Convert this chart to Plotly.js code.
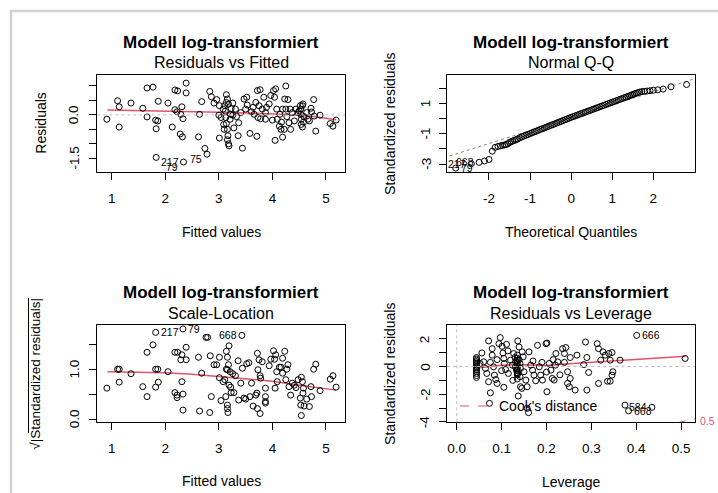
<!DOCTYPE html>
<html>
<head>
<meta charset="utf-8">
<script src="https://cdn.plot.ly/plotly-3.0.1.min.js"></script>
<style>html,body{margin:0;padding:0;background:#fff;}#plot{width:718px;height:493px;}</style>
</head>
<body>
<div id="plot"></div>
<script>
// ---------- Panel 1: Residuals vs Fitted ----------
var rvfX = [0.91,1.11,1.14,1.14,1.36,1.58,1.66,1.77,1.66,1.82,
1.86,1.83,1.87,2.05,2.13,2.18,2.23,2.39,2.39,2.18,
2.22,2.31,2.29,2.33,2.28,2.32,2.62,2.64,2.68,2.74,
2.78,1.83,2.34,2.83,2.86,2.91,2.96,3.01,3.0,3.04,
3.01,3.08,3.11,3.14,3.16,3.14,3.12,3.13,3.14,3.16,
3.17,3.16,3.18,3.19,3.21,3.22,3.23,3.26,3.28,3.31,
3.36,3.37,3.41,3.44,3.47,3.5,3.52,3.58,3.61,3.64,
3.69,3.71,3.72,3.77,3.73,3.78,3.81,3.84,3.87,3.87,
3.94,3.97,4.02,4.06,4.04,4.08,4.09,4.05,4.13,4.16,
4.19,4.19,4.23,4.25,4.27,4.29,4.31,4.34,4.37,4.41,
4.44,4.48,4.52,4.53,4.53,4.54,4.54,4.56,4.57,4.59,
4.64,4.69,4.72,4.77,4.81,4.89,5.08,5.13,5.19,3.09,
3.1,3.18,3.26,3.33,3.53,3.66,3.75,3.89,4.0,4.14,
4.17,4.22,4.25,4.33,4.5,4.56,4.58,4.66,4.73,4.78];
var rvfY = [-0.15,0.49,0.28,-0.42,0.41,0.23,0.93,0.96,-0.07,-0.18,
-0.21,-0.48,0.47,0.41,-0.42,0.86,0.83,1.10,0.76,0.18,
0.11,0.28,0.02,-0.13,-0.66,-0.76,-0.76,0.02,0.46,-1.16,
-1.36,-1.47,-1.63,0.81,0.63,0.41,0.53,0.32,-0.01,-0.09,
-0.80,0.20,0.32,0.70,0.55,0.43,0.13,-0.09,-0.30,-0.50,
-0.72,-0.86,-1.0,-1.07,-0.15,0.02,0.22,0.41,-0.45,0.2,
-0.72,-0.27,0.08,-1.15,0.55,0.2,0.61,-0.64,0.11,0.26,
0.43,-0.74,0.84,0.87,-0.09,-0.13,0.2,0.61,0.08,-0.15,
0.38,0.67,0.84,0.9,0.61,0.2,-0.15,-0.88,-0.39,-0.5,
-0.77,0.2,0.55,1.0,-0.06,0.53,-0.27,-0.5,0.08,-0.21,
0.2,0.08,0.32,0.2,0.02,-0.15,-0.33,-0.42,0.38,-0.06,
0.08,-0.21,0.23,0.53,-0.56,-0.01,-0.3,-0.39,-0.18,-0.33,
-0.5,0.37,-0.01,-0.06,0.34,0.02,0.32,0.26,-0.18,0.02,
-0.25,-0.5,0.2,0.2,0.14,0.32,-0.25,-0.15,0.1,-0.04];
var rvfSmoothX = [0.92,1.5,2.0,2.5,3.0,3.5,4.0,4.5,4.8,5.0,5.19];
var rvfSmoothY = [0.17,0.155,0.14,0.115,0.095,0.07,0.04,0.0,-0.06,-0.11,-0.17];
var rvfIdX = [1.83,2.34,2.78];
var rvfIdY = [-1.47,-1.63,-1.36];
var rvfIdText = ['217','79','75'];
var rvfIdSide = [1,-1,-1];
var rvfXTicks = [1,2,3,4,5];
var rvfXLabels = ['1','2','3','4','5'];
var rvfYTicks = [-1.5,-1,-0.5,0,0.5,1];
var rvfYLabels = ['-1.5','','','0.0','',''];

// ---------- Panel 2: Normal Q-Q ----------
var qqX = [-2.81,-2.43,-2.24,-2.11,-2.0,-1.92,-1.85,-1.78,-1.72,-1.67,-1.62,-1.58,-1.54,-1.5,-1.46,-1.42,-1.38,-1.34,-1.3,
-1.25,-1.2,-1.15,-1.1,-1.05,-1.0,-0.95,-0.9,-0.85,-0.8,-0.75,-0.7,-0.65,-0.6,-0.55,-0.5,-0.45,-0.4,-0.35,-0.3,-0.25,-0.2,-0.15,-0.1,-0.05,
0,0.05,0.1,0.15,0.2,0.25,0.3,0.35,0.4,0.45,0.5,0.55,0.6,0.65,0.7,0.75,0.8,0.85,0.9,0.95,1.0,1.05,1.1,1.15,1.2,1.25,1.3,
1.34,1.38,1.42,1.46,1.5,1.54,1.58,1.62,1.67,1.72,1.78,1.85,1.92,2.0,2.11,2.24,2.43,2.81];
var qqY = [-3.27,-2.98,-2.89,-2.80,-2.70,-2.15,-1.90,-1.84,-1.80,-1.77,-1.74,-1.71,-1.66,-1.58,-1.53,-1.48,-1.44,-1.40,-1.34,
-1.27,-1.21,-1.15,-1.10,-1.05,-0.99,-0.94,-0.88,-0.83,-0.78,-0.72,-0.67,-0.62,-0.56,-0.51,-0.45,-0.40,-0.35,-0.29,-0.24,-0.19,-0.13,-0.08,-0.03,0.03,
0.08,0.13,0.18,0.23,0.28,0.33,0.38,0.43,0.48,0.53,0.58,0.63,0.68,0.73,0.78,0.83,0.88,0.93,0.98,1.03,1.08,1.13,1.18,1.23,1.28,1.33,1.38,
1.42,1.46,1.50,1.55,1.59,1.63,1.67,1.71,1.75,1.78,1.80,1.82,1.84,1.87,1.90,1.95,2.10,2.25];
var qqLineX = [-3.1,3.1];
var qqLineY = [-2.59,2.71];
var qqIdX = [-2.81,-2.43,-2.24];
var qqIdY = [-3.27,-2.98,-2.89];
var qqIdText = ['79','217','668'];
var qqIdSide = [1,-1,-1];
var qqXTicks = [-2,-1,0,1,2];
var qqXLabels = ['-2','-1','0','1','2'];
var qqYTicks = [-3,-2,-1,0,1,2];
var qqYLabels = ['-3','','-1','','1',''];

// ---------- Panel 3: Scale-Location ----------
var slX = [0.91,1.11,1.14,1.14,1.36,1.58,1.66,1.66,1.77,1.82,
1.82,1.86,1.82,1.87,2.05,2.18,2.23,2.18,2.22,2.22,
2.31,2.29,2.33,2.39,2.39,2.31,2.33,2.33,2.62,2.64,
2.68,2.76,2.79,2.83,2.84,2.86,2.91,2.96,3.01,3.01,
3.04,3.08,3.11,3.13,3.14,3.16,3.16,3.14,3.16,3.16,
3.17,3.19,3.18,3.19,3.21,3.22,3.23,3.26,3.28,3.31,
3.36,3.37,3.41,3.44,3.47,3.5,3.52,3.56,3.58,3.61,
3.64,3.69,3.71,3.72,3.75,3.73,3.72,3.77,3.77,3.78,
3.81,3.87,3.87,3.87,3.87,3.94,3.97,4.02,4.04,4.06,
4.05,4.08,4.09,4.13,4.16,4.19,4.19,4.23,4.25,4.27,
4.29,4.31,4.34,4.37,4.41,4.44,4.48,4.52,4.53,4.54,
4.54,4.56,4.57,4.58,4.59,4.64,4.69,4.72,4.73,4.77,
4.81,4.89,5.08,5.13,5.19,3.43];
var slY = [0.62,1.0,1.0,0.74,0.91,0.65,1.34,0.45,1.49,1.74,
1.0,1.0,0.64,0.74,0.95,1.34,1.34,0.53,0.43,0.48,
1.29,1.19,1.81,1.44,1.19,0.75,0.50,0.18,1.24,0.16,
0.92,1.64,1.64,0.13,1.27,0.45,1.09,1.09,1.24,0.83,
0.37,0.75,0.79,0.45,1.36,1.24,0.99,1.0,0.28,0.21,
0.13,1.47,1.09,0.68,0.95,0.64,0.53,0.91,0.53,0.87,
1.17,0.38,0.72,1.02,0.42,0.40,1.11,1.13,0.45,0.72,
0.26,0.48,0.52,1.32,1.19,0.99,0.21,0.11,0.87,0.82,
1.15,0.62,0.45,0.35,0.32,1.07,1.2,1.37,1.2,1.29,
0.62,0.95,0.75,1.04,1.04,0.92,1.22,1.36,0.79,1.0,
1.09,0.65,0.48,0.72,0.68,0.63,0.79,0.42,0.28,0.07,
0.84,0.75,0.52,0.62,0.26,0.4,0.25,0.65,0.45,1.0,
1.1,0.57,0.8,0.87,0.64,1.68];
var slSmoothX = [0.92,1.5,2.0,2.5,3.0,3.5,4.0,4.5,4.8,5.0,5.19];
var slSmoothY = [0.95,0.94,0.93,0.90,0.85,0.80,0.76,0.68,0.63,0.60,0.58];
var slIdX = [1.82,2.33,3.43];
var slIdY = [1.74,1.81,1.68];
var slIdText = ['217','79','668'];
var slIdSide = [1,1,-1];
var slYTicks = [0,0.5,1,1.5];
var slYLabels = ['0.0','','1.0',''];

// ---------- Panel 4: Residuals vs Leverage ----------
var levX = [0.044,0.044,0.044,0.044,0.044,0.044,0.044,0.044,0.044,0.044,0.044,0.044,0.044,
0.056,0.052,0.06,0.064,0.067,0.071,0.075,0.071,0.079,0.079,
0.082,0.084,0.087,0.09,0.094,0.097,0.101,0.103,0.105,0.106,
0.109,0.111,0.114,0.105,0.12,0.124,0.127,0.13,0.131,0.131,
0.133,0.135,0.136,0.136,0.139,0.139,0.141,0.141,0.142,0.142,
0.145,0.137,0.146,0.148,0.15,0.154,0.157,0.161,0.165,0.169,
0.172,0.176,0.18,0.184,0.187,0.191,0.199,0.201,0.201,0.206,
0.21,0.213,0.217,0.221,0.225,0.236,0.24,0.243,0.247,0.247,
0.251,0.253,0.268,0.287,0.29,0.283,0.294,0.264,0.29,0.253,
0.313,0.316,0.321,0.326,0.331,0.339,0.346,0.342,0.348,0.346,
0.342,0.336,0.316,0.364,0.401,0.375,0.383,0.435,0.509,0.073,
0.157,0.16,
0.135,0.135,0.135,0.135,0.135,0.135,0.135,0.135,0.135,0.135,
0.075,0.09,0.1,0.115,0.125,0.17,0.19,0.2,0.215,0.22,0.23,0.24];
var levY = [0.65,0.55,0.45,0.35,0.25,0.12,0.0,-0.12,-0.25,-0.38,-0.5,-0.65,-0.79,
0.98,0.22,0.34,-0.14,-0.5,-1.1,-1.9,1.85,1.29,0.82,
-0.02,-0.62,-0.94,-1.22,1.65,2.09,1.46,0.98,0.58,0.22,
-0.22,1.6,1.13,-1.5,0.46,0.1,0.94,0.65,0.34,-0.02,
-0.26,0.82,-0.5,1.85,1.41,0.5,0.22,-0.74,-0.14,-1.46,
-1.58,-2.13,1.06,0.7,-0.38,-0.98,-1.46,1.06,0.1,-0.26,
-0.62,-1.03,1.53,-0.02,-0.62,-0.98,1.65,1.7,-1.82,0.22,
-0.26,-0.86,-0.98,0.94,0.34,1.29,0.94,1.37,-0.38,-1.22,
-1.46,0.65,0.82,1.77,0.65,0.14,-0.43,-1.7,-1.7,-0.86,
1.65,1.29,0.46,1.06,0.82,0.94,1.01,0.46,-0.38,-0.62,
-1.06,-1.06,-1.22,0.46,2.25,-2.79,-3.2,-2.95,0.58,-2.66,
-3.02,-3.33,
0.6,0.45,0.3,0.15,0.0,-0.15,-0.3,-0.45,-0.6,-0.9,
0.3,0.5,-0.3,-0.5,-1.0,0.4,0.3,-0.4,0.5,0.1,-0.6,0.3];
var levSmoothX = [0.045,0.1,0.15,0.2,0.25,0.3,0.35,0.4,0.45,0.51];
var levSmoothY = [-0.1,0.1,0.12,0.08,0.2,0.31,0.41,0.51,0.62,0.74];
var cookX = [0.49,0.5,0.51,0.52,0.531,0.54];
var cookY = [-4.08,-4.0,-3.92,-3.84,-3.76,-3.7];
var levIdX = [0.401,0.435,0.383];
var levIdY = [2.25,-2.95,-3.2];
var levIdText = ['666','584','668'];
var levIdSide = [1,-1,1];
var levXTicks = [0,0.1,0.2,0.3,0.4,0.5];
var levXLabels = ['0.0','0.1','0.2','0.3','0.4','0.5'];
var levYTicks = [-4,-3,-2,-1,0,1,2];
var levYLabels = ['-4','','-2','','0','','2'];

// ---------- drawing ----------
var FONT = '"Liberation Sans", Arial, Helvetica, sans-serif';
var RED = '#DF536B';
var W = 718, H = 493;
function px(x){ return x / W; }
function py(y){ return 1 - y / H; }

function pts(x, y, ax){
  return {x:x, y:y, xaxis:'x'+ax, yaxis:'y'+ax, type:'scatter', mode:'markers',
    marker:{symbol:'circle-open', size:6, color:'#000', line:{width:1, color:'#000'}},
    hoverinfo:'skip'};
}
function line(x, y, ax, color, dash, width){
  return {x:x, y:y, xaxis:'x'+ax, yaxis:'y'+ax, type:'scatter', mode:'lines',
    line:{color:color, dash:dash, width:width}, hoverinfo:'skip'};
}
var data = [
  line(rvfSmoothX, rvfSmoothY, '', RED, 'solid', 1.5),
  pts(rvfX, rvfY, ''),
  line(qqLineX, qqLineY, '2', '#7f7f7f', 'dot', 1),
  pts(qqX, qqY, '2'),
  line(slSmoothX, slSmoothY, '3', RED, 'solid', 1.5),
  pts(slX, slY, '3'),
  line(levSmoothX, levSmoothY, '4', RED, 'solid', 1.5),
  line(cookX, cookY, '4', RED, 'dash', 1),
  pts(levX, levY, '4')
];

function xax(d0, d1, range, tv, tt, anchor){
  return {domain:[px(d0), px(d1)], range:range, anchor:anchor, tickmode:'array', tickvals:tv, ticktext:tt,
    ticks:'outside', ticklen:7, tickwidth:1, tickcolor:'#000', showline:true, linecolor:'#000', linewidth:1,
    mirror:true, showgrid:false, zeroline:false, ticklabelstandoff:6,
    tickfont:{family:FONT, size:13.5, color:'#000'}};
}
function yax(t0, t1, range, tv, anchor){
  return {domain:[py(t1), py(t0)], range:range, anchor:anchor, tickmode:'array', tickvals:tv,
    ticks:'outside', ticklen:7, tickwidth:1, tickcolor:'#000', showline:true, linecolor:'#000', linewidth:1,
    mirror:true, showgrid:false, zeroline:false, showticklabels:false};
}

var L1 = 97.3, R1 = 345, L2 = 447.3, R2 = 695, T1 = 75, B1 = 172.3, T2 = 325, B2 = 422.3;
var layout = {
  width:W, height:H, margin:{l:0, r:0, t:0, b:0}, showlegend:false,
  paper_bgcolor:'#fff', plot_bgcolor:'#fff', font:{family:FONT, color:'#000'},
  xaxis: xax(L1, R1, [0.731, 5.355], rvfXTicks, rvfXLabels, 'y'),
  yaxis: yax(T1, B1, [-1.985, 1.38], rvfYTicks, 'x'),
  xaxis2: xax(L2, R2, [-3.015, 3.015], qqXTicks, qqXLabels, 'y2'),
  yaxis2: yax(T1, B1, [-3.548, 2.878], qqYTicks, 'x2'),
  xaxis3: xax(L1, R1, [0.731, 5.355], rvfXTicks, rvfXLabels, 'y3'),
  yaxis3: yax(T2, B2, [-0.066, 1.888], slYTicks, 'x3'),
  xaxis4: xax(L2, R2, [-0.021, 0.531], levXTicks, levXLabels, 'y4'),
  yaxis4: yax(T2, B2, [-4.03, 3.0], levYTicks, 'x4'),
  shapes: [
    {type:'rect', xref:'paper', yref:'paper', x0:px(11), x1:1.02, y0:-0.02, y1:py(11),
      line:{color:'#d2d2d2', width:2.5}, fillcolor:'rgba(0,0,0,0)'},
    {type:'line', xref:'x domain', yref:'y', x0:0, x1:1, y0:0, y1:0, line:{color:'#bebebe', dash:'dot', width:1}},
    {type:'line', xref:'x4 domain', yref:'y4', x0:0, x1:1, y0:0, y1:0, line:{color:'#bebebe', dash:'dot', width:1}},
    {type:'line', xref:'x4', yref:'y4 domain', x0:0, x1:0, y0:0, y1:1, line:{color:'#bebebe', dash:'dot', width:1}},
    {type:'line', xref:'paper', yref:'paper', x0:px(460), x1:px(492), y0:py(406), y1:py(406), line:{color:RED, dash:'dash', width:1}},
    {type:'line', xref:'paper', yref:'paper', x0:px(28.5), x1:px(28.5), y0:py(298), y1:py(433), line:{color:'#000', width:1}}
  ],
  annotations: []
};

var ann = layout.annotations;
function txt(text, x, y, size, opts){
  var a = {text:text, xref:'paper', yref:'paper', x:px(x), y:py(y), showarrow:false,
    xanchor:'center', yanchor:'middle', font:{family:FONT, size:size, color:'#000'}};
  for (var k in opts) a[k] = opts[k];
  ann.push(a);
}
var C1 = (L1 + R1) / 2, C2 = (L2 + R2) / 2, M1 = (T1 + B1) / 2, M2 = (T2 + B2) / 2;
txt('<b>Modell log-transformiert</b>', C1, 42.7, 17);
txt('Residuals vs Fitted', C1, 62.7, 16);
txt('<b>Modell log-transformiert</b>', C2, 42.7, 17);
txt('Normal Q-Q', C2, 62.7, 16);
txt('<b>Modell log-transformiert</b>', C1, 292.7, 17);
txt('Scale-Location', C1, 313.3, 16);
txt('<b>Modell log-transformiert</b>', C2, 292.7, 17);
txt('Residuals vs Leverage', C2, 313.3, 16);
txt('Fitted values', C1, 231.7, 14);
txt('Theoretical Quantiles', C2, 231.7, 14);
txt('Fitted values', C1, 480.7, 14);
txt('Leverage', C2, 481.5, 14);
txt('Residuals', 41, M1, 14, {textangle:-90});
txt('Standardized residuals', 389.3, M1, 14, {textangle:-90});
txt('√|Standardized residuals|', 36, M2, 13.5, {textangle:-90});
txt('Standardized residuals', 389.3, M2, 14, {textangle:-90});
txt("Cook's distance", 497, 406, 14, {xanchor:'left'});
txt('0.5', 698, 420.5, 10.5, {xanchor:'left', font:{family:FONT, size:10.5, color:RED}});

// rotated y tick labels (R style)
function yLabels(vals, labs, ax, xPix){
  for (var i = 0; i < vals.length; i++){
    if (!labs[i]) continue;
    ann.push({text:labs[i], xref:'paper', yref:'y'+ax, x:px(xPix), y:vals[i], showarrow:false,
      xanchor:'center', yanchor:'middle', textangle:-90, font:{family:FONT, size:13.5, color:'#000'}});
  }
}
yLabels(rvfYTicks, rvfYLabels, '', L1 - 23);
yLabels(qqYTicks, qqYLabels, '2', L2 - 21.5);
yLabels(slYTicks, slYLabels, '3', L1 - 23);
yLabels(levYTicks, levYLabels, '4', L2 - 22);

function ids(xs, ys, ts, sides, ax, yshift){
  for (var i = 0; i < xs.length; i++){
    ann.push({text:ts[i], x:xs[i], y:ys[i], xref:'x'+ax, yref:'y'+ax, showarrow:false,
      xanchor: sides[i] > 0 ? 'left' : 'right', yanchor:'middle', xshift: sides[i] * 3, yshift:yshift,
      font:{family:FONT, size:10.5, color:'#000'}});
  }
}
ids(rvfIdX, rvfIdY, rvfIdText, rvfIdSide, '', -4.5);
ids(qqIdX, qqIdY, qqIdText, qqIdSide, '2', 0);
ids(slIdX, slIdY, slIdText, slIdSide, '3', 0);
ids(levIdX, levIdY, levIdText, levIdSide, '4', 0);

Plotly.newPlot('plot', data, layout, {displayModeBar:false, staticPlot:true});
</script>
</body>
</html>
